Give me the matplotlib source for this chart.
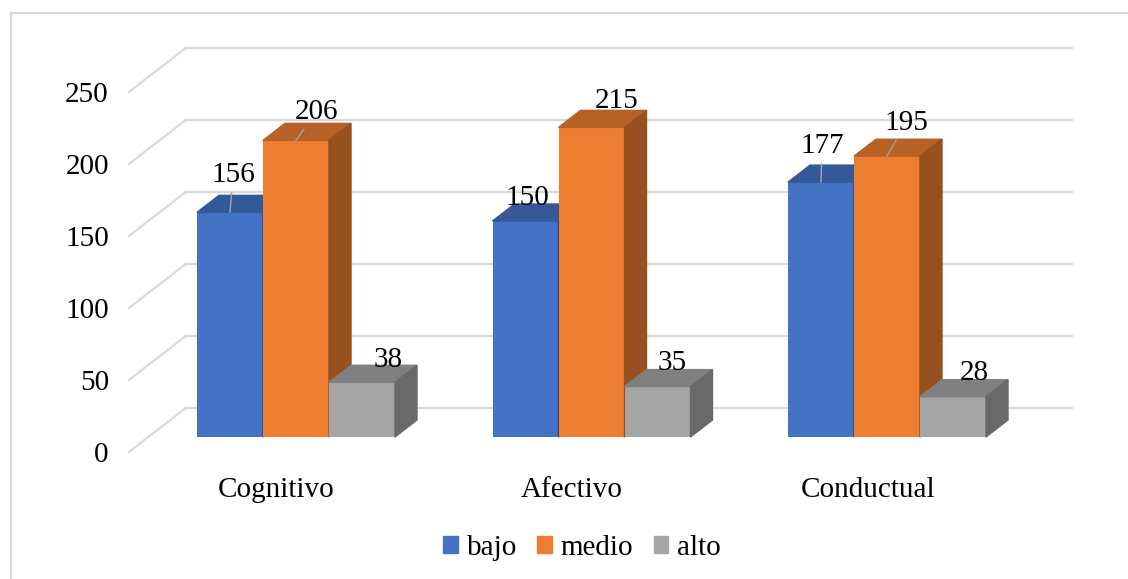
import matplotlib.pyplot as plt
from matplotlib.patches import Polygon, Patch, Rectangle

# datos
categorias = ["Cognitivo", "Afectivo", "Conductual"]
niveles = ["bajo", "medio", "alto"]
bajo = [156, 150, 177]
medio = [206, 215, 195]
alto = [38, 35, 28]
valores_y = [0, 50, 100, 150, 200, 250]

colores = ["#4472C4", "#ED7D31", "#A5A5A5"]
rejilla = "#D9D9D9"

# desplazamiento (px) de cada etiqueta respecto al borde frontal superior de su barra
desp_bajo = [(3, 30), (2, 16), (1, 29)]
desp_medio = [(20, 21), (25, 19), (19, 26)]
desp_alto = [(26, 15), (15, 17), (21, 17)]
guia_bajo = [True, False, True]
guia_medio = [True, False, True]
guia_alto = [False, False, False]

# escala de la vista en perspectiva (pixeles por unidad)
W, H = 1128, 579
PX_CAT = 295.5       # px por categoria
PX_VAL = 1.44        # px por unidad de valor
X0_PX, Y0_PX = 296, 437   # centro del primer grupo / cero en el plano de las barras
ANCHO = 66 / PX_CAT


def a_datos(dx, dy):
    return dx / PX_CAT, dy / PX_VAL


prof_barra = a_datos(22, 17)
plano_frente = a_datos(-19.4, -15)
plano_fondo = a_datos(37.6, 29)


def sombra(color, f):
    c = color.lstrip("#")
    r, g, b = (int(c[i:i + 2], 16) for i in (0, 2, 4))
    return "#{:02x}{:02x}{:02x}".format(int(r * f), int(g * f), int(b * f))


plt.rcParams["font.family"] = ["Liberation Serif", "DejaVu Serif"]
plt.rcParams["font.size"] = 21

fig = plt.figure(figsize=(W / 100, H / 100), dpi=100)
ax = fig.add_axes([0, 0, 1, 1])
ax.set_xlim(-X0_PX / PX_CAT, (W - X0_PX) / PX_CAT)
ax.set_ylim(-(H - Y0_PX) / PX_VAL, Y0_PX / PX_VAL)
ax.axis("off")

# marco del grafico
fig.patches.append(Rectangle((11 / W, -0.1), 1.2, 1.1 - 13 / H, transform=fig.transFigure,
                             fill=False, edgecolor=rejilla, lw=1.5))

# pared del fondo y lineas laterales
x_izq, x_der = -0.5, len(categorias) - 0.5
for v in valores_y:
    ax.plot([x_izq + plano_fondo[0], x_der + plano_fondo[0]],
            [v + plano_fondo[1], v + plano_fondo[1]], color=rejilla, lw=1.6, zorder=1)
    ax.plot([x_izq + plano_frente[0], x_izq + plano_fondo[0]],
            [v + plano_frente[1], v + plano_fondo[1]], color=rejilla, lw=1.6, zorder=1)
    ax.annotate(str(v), (x_izq + plano_frente[0], v + plano_frente[1]),
                xytext=(-20, -10.5), textcoords="offset pixels",
                ha="right", va="baseline")

for i, cat in enumerate(categorias):
    ax.annotate(cat, (i + plano_frente[0], plano_frente[1]), xytext=(0, -45),
                textcoords="offset pixels", ha="center", va="baseline")

series = [bajo, medio, alto]
desplazamientos = [desp_bajo, desp_medio, desp_alto]
guias = [guia_bajo, guia_medio, guia_alto]
dx, dy = prof_barra

for j, vals in enumerate(series):
    xs = [i + (j - 1) * ANCHO for i in range(len(categorias))]
    z = 2 + j
    ax.bar(xs, vals, width=ANCHO, color=colores[j], zorder=z)
    for x, v, (ox, oy), guia in zip(xs, vals, desplazamientos[j], guias[j]):
        xl, xr = x - ANCHO / 2, x + ANCHO / 2
        ax.add_patch(Polygon([(xl, v), (xr, v), (xr + dx, v + dy), (xl + dx, v + dy)],
                             closed=True, color=sombra(colores[j], 0.78), zorder=z))
        ax.add_patch(Polygon([(xr, 0), (xr, v), (xr + dx, v + dy), (xr + dx, dy)],
                             closed=True, color=sombra(colores[j], 0.64), zorder=z))
        flecha = dict(arrowstyle="-", color="#A6A6A6", lw=1, shrinkA=1, shrinkB=0) if guia else None
        ax.annotate(str(v), (x, v), xytext=(ox, oy), textcoords="offset pixels",
                    ha="center", va="baseline", zorder=10, arrowprops=flecha)

manejadores = [Patch(color=c, label=n) for c, n in zip(colores, niveles)]
fig.legend(handles=manejadores, loc="center", bbox_to_anchor=(582 / W, 1 - 548 / H),
           ncol=3, frameon=False, handlelength=0.5, handleheight=0.5,
           handletextpad=0.3, columnspacing=0.7, borderpad=0)

fig.savefig("out.png", dpi=100)
